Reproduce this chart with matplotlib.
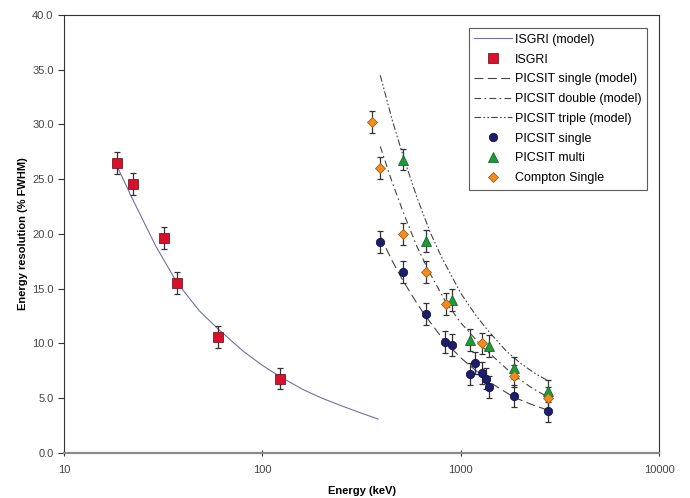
import numpy as np
import matplotlib
matplotlib.use("Agg")
import matplotlib.pyplot as plt
from matplotlib.ticker import FixedLocator, FixedFormatter, FormatStrFormatter

plt.rcParams['font.family'] = ['Liberation Sans', 'DejaVu Sans']

# ISGRI data
isgri_e = [18.5, 22.3, 31.9, 37.1, 59.7, 122.7]
isgri_r = [26.5, 24.6, 19.6, 15.5, 10.6, 6.8]
isgri_err = [1.0, 1.0, 1.0, 1.0, 1.0, 1.0]

# ISGRI model curve
isgri_model_e = [18.5, 22, 29, 37, 48, 60, 80, 100, 122, 160, 200, 260, 320, 383]
isgri_model_r = [26.2, 23.3, 18.9, 15.6, 13.0, 11.3, 9.3, 8.0, 7.0, 5.8, 5.0, 4.2, 3.6, 3.1]

# PICSIT model curves
single_model_e = [393, 450, 513, 600, 665, 830, 1000, 1110, 1390, 1850, 2300, 2760]
single_model_r = [19.8, 17.6, 15.7, 13.7, 12.5, 10.2, 8.7, 8.0, 6.5, 5.1, 4.4, 3.9]
double_model_e = [393, 450, 513, 600, 700, 840, 1000, 1270, 1500, 1850, 2300, 2760]
double_model_r = [28.0, 24.8, 22.0, 18.9, 16.4, 13.8, 11.9, 9.8, 8.6, 7.1, 5.9, 5.1]
triple_model_e = [393, 450, 513, 600, 700, 800, 1000, 1200, 1400, 1700, 2000, 2400, 2760]
triple_model_r = [34.5, 30.5, 27.1, 23.4, 20.2, 17.9, 14.6, 12.5, 11.0, 9.3, 8.2, 7.2, 6.6]

# PICSIT single
single_e = [393, 513, 665, 832, 899, 1116, 1183, 1274, 1340, 1387, 1848, 2760]
single_r = [19.3, 16.5, 12.7, 10.1, 9.9, 7.2, 8.2, 7.3, 6.8, 6.0, 5.2, 3.8]

# PICSIT multi
multi_e = [513, 665, 903, 1116, 1387, 1848, 2760]
multi_r = [26.8, 19.4, 14.0, 10.3, 9.8, 7.8, 5.7]

# Compton single
compton_e = [356, 393, 513, 665, 839, 1274, 1848, 2760]
compton_r = [30.2, 26.0, 20.0, 16.5, 13.6, 10.0, 7.0, 5.0]

fig = plt.figure(figsize=(6.9, 4.98), dpi=100)
ax = fig.add_axes([0.0928, 0.0904, 0.8623, 0.8795])

err_kw = dict(fmt='none', ecolor='#333333', elinewidth=0.9, capsize=2.5, capthick=0.9, zorder=2)

ax.plot(isgri_model_e, isgri_model_r, color='#7070a8', lw=0.8, label='ISGRI (model)', zorder=1)
ax.errorbar(isgri_e, isgri_r, yerr=isgri_err, **err_kw)
ax.plot(isgri_e, isgri_r, 's', color='#d8102c', mec='#7a1a22', mew=0.6, ms=6.5, label='ISGRI', zorder=3)

ax.plot(single_model_e, single_model_r, color='#444444', lw=0.8, dashes=(8, 4), label='PICSIT single (model)', zorder=1)
ax.plot(double_model_e, double_model_r, color='#444444', lw=0.8, dashes=(6, 3, 1.5, 3), label='PICSIT double (model)', zorder=1)
ax.plot(triple_model_e, triple_model_r, color='#444444', lw=0.8, dashes=(6, 2, 1.5, 2, 1.5, 2), label='PICSIT triple (model)', zorder=1)

ax.errorbar(single_e, single_r, yerr=[1.0] * len(single_e), **err_kw)
ax.plot(single_e, single_r, 'o', color='#1e1e68', mec='#14144a', mew=0.6, ms=6, label='PICSIT single', zorder=3)
ax.errorbar(multi_e, multi_r, yerr=[1.0] * len(multi_e), **err_kw)
ax.plot(multi_e, multi_r, '^', color='#1e9a38', mec='#146a26', mew=0.6, ms=7, label='PICSIT multi', zorder=3)
ax.errorbar(compton_e, compton_r, yerr=[1.0] * len(compton_e), **err_kw)
ax.plot(compton_e, compton_r, 'D', color='#f28c1e', mec='#a0601a', mew=0.6, ms=5, label='Compton Single', zorder=3)

ax.set_xscale('log')
ax.set_xlim(10, 10000)
ax.set_ylim(0, 40)
ax.xaxis.set_major_locator(FixedLocator([10, 100, 1000, 10000]))
ax.xaxis.set_major_formatter(FixedFormatter(['10', '100', '1000', '10000']))
ax.xaxis.set_minor_locator(FixedLocator([]))
ax.set_yticks(np.arange(0, 40.1, 5))
ax.yaxis.set_major_formatter(FormatStrFormatter('%.1f'))

ax.tick_params(axis='y', direction='out', length=4, width=0.8, labelsize=8, colors='#333333', labelcolor='#444444')
ax.tick_params(axis='x', direction='inout', length=5, width=0.8, labelsize=8, colors='#333333', labelcolor='#444444', pad=6)

for s in ['left', 'top', 'right']:
    ax.spines[s].set_color('#333333')
    ax.spines[s].set_linewidth(0.8)
ax.spines['bottom'].set_color('#8a8a8a')
ax.spines['bottom'].set_linewidth(1.6)

ax.set_xlabel('Energy (keV)', fontsize=8, fontweight='bold', labelpad=8)
ax.set_ylabel('Energy resolution (% FWHM)', fontsize=8, fontweight='bold', labelpad=3)

leg = ax.legend(loc='upper right', bbox_to_anchor=(0.980, 0.970), borderaxespad=0,
                fontsize=9, frameon=True, fancybox=False, handlelength=3.0,
                handletextpad=0.25, labelspacing=0.62, borderpad=0.45)
leg.get_frame().set_edgecolor('#333333')
leg.get_frame().set_linewidth(0.8)

fig.savefig('out.png', dpi=100)
